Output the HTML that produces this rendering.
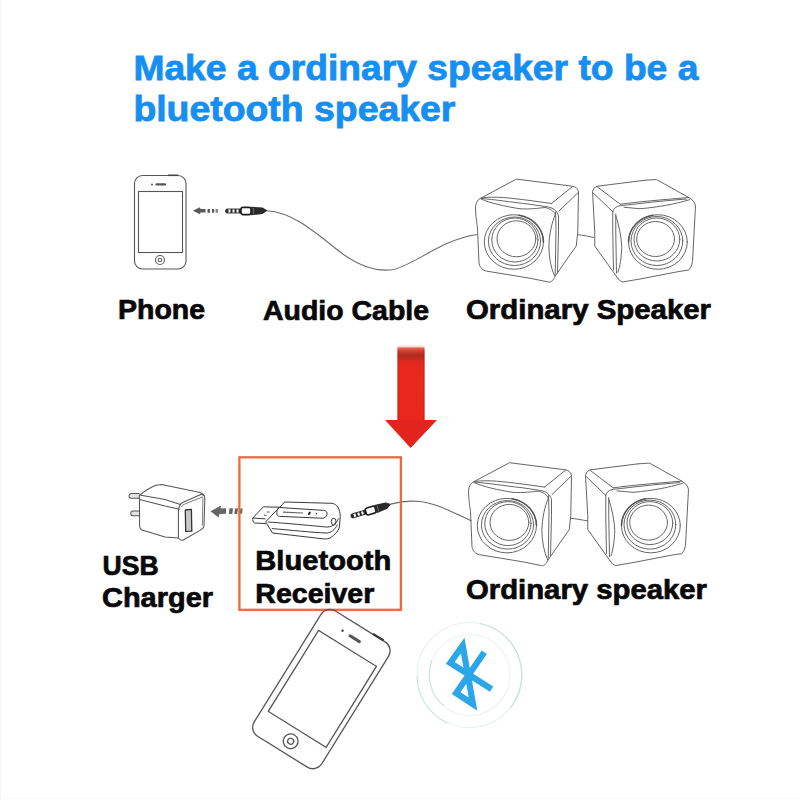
<!DOCTYPE html>
<html><head><meta charset="utf-8">
<style>
html,body{margin:0;padding:0;background:#fff;}
body{width:800px;height:800px;overflow:hidden;}
svg{display:block;}
.t{font-family:"Liberation Sans",sans-serif;font-weight:bold;stroke:currentColor;stroke-width:0.7px;}
</style></head>
<body>
<svg width="800" height="800" viewBox="0 0 800 800">
<defs>
<linearGradient id="shaft" x1="0" y1="0" x2="0" y2="1">
<stop offset="0" stop-color="#fff"/>
<stop offset="0.02" stop-color="#f8d6d0"/>
<stop offset="0.045" stop-color="#e6584a"/>
<stop offset="0.09" stop-color="#c8392c"/>
<stop offset="0.14" stop-color="#ab2a1e"/>
<stop offset="0.2" stop-color="#d62a20"/>
<stop offset="0.28" stop-color="#e8281e"/>
<stop offset="1" stop-color="#ea261c"/>
</linearGradient>



</defs>

<!-- Title -->
<text class="t" x="133.4" y="80" font-size="34.5" fill="#168ef2" style="color:#168ef2;stroke-width:0.8px" textLength="565" lengthAdjust="spacingAndGlyphs">Make a ordinary speaker to be a</text>
<text class="t" x="133.4" y="121.3" font-size="34.5" fill="#168ef2" style="color:#168ef2;stroke-width:0.8px" textLength="322" lengthAdjust="spacingAndGlyphs">bluetooth speaker</text>

<!-- Upper phone -->
<g fill="none" stroke="#555" stroke-width="1.1">
  <rect x="134.5" y="175.5" width="51.5" height="93.5" rx="8" ry="8"/>
  <rect x="138.5" y="191.5" width="44" height="61"/>
  <circle cx="160" cy="260" r="4.5"/>
  <circle cx="160" cy="260" r="1.8"/>
</g>
<line x1="156.5" y1="184.4" x2="165" y2="184.4" stroke="#555" stroke-width="2.2" stroke-linecap="round"/>
<circle cx="152" cy="184.4" r="1" fill="#555"/>
<line x1="168" y1="175.3" x2="178" y2="175.3" stroke="#444" stroke-width="1.6"/>

<!-- dashed arrow upper -->
<g fill="#5a5a5a">
  <path d="M192.75,210.75 L200,207.3 L200.5,209 L205.5,209 L205.5,212.5 L200.5,212.5 L200,214.2 Z"/>
  <rect x="207.5" y="209" width="2.5" height="3.75"/>
  <rect x="212" y="209" width="2.2" height="3.75"/>
  <rect x="215.5" y="209" width="2.5" height="3.75" fill="#888"/>
</g>
<!-- jack upper -->
<g transform="translate(225.5,211)">
  <path d="M1,-2 L15.5,-2 L15.5,2 L1,2 Q-0.8,0 1,-2 Z" fill="#fff" stroke="#2a2a2a" stroke-width="0.9"/>
  <rect x="0" y="-2" width="3" height="4" rx="1.5" fill="#2a2a2a"/>
  <rect x="5" y="-2" width="2" height="4" fill="#2a2a2a"/>
  <rect x="9" y="-2" width="2" height="4" fill="#2a2a2a"/>
  <rect x="13" y="-2" width="2.5" height="4" fill="#2a2a2a"/>
  <rect x="15.5" y="-3.6" width="10" height="7.2" rx="2" fill="#fff" stroke="#1e1e1e" stroke-width="1.6"/>
  <path d="M25.5,-4.2 L37,-3.6 L42,-0.5 L37,3 L25.5,4.2 Z" fill="#2a2a2a"/>
  <path d="M28,-3 L28,3" stroke="#aaa" stroke-width="0.5"/>
</g>
<!-- cable upper -->
<path d="M267,210.75 C290,212 310,228 335,248 C357,266 375,272 392.5,269.75 C415,265 440,240 477.2,234.5" fill="none" stroke="#6a6a6a" stroke-width="1.1"/>
<path d="M577.5,234.75 C583,235 589,236.5 594,237.5" fill="none" stroke="#666" stroke-width="1"/>

<g fill="none" stroke="#666" stroke-width="1" stroke-linejoin="round" stroke-linecap="round">
 <path d="M481.25,197.9 L516.5,179.1 L572.5,186.25 Q577.5,187 578.5,192 L577.75,232 L576.25,246 L555.25,276"/>
 <path d="M551.5,203.5 L572.5,186.6"/>
 <path d="M559,211 L578.5,192.25"/>
 <path d="M481.25,197.9 C495,196 510,198 530,200.5 L551.5,203.5"/>
 <path d="M481,198.5 C495,199.5 510,202 530,204.25 L544.75,206.5 C552,207 557,210 558.5,216 L558.5,232 L557.5,273"/>
 <path d="M555.5,212 L556,228 L555.25,274.5"/>
 <path d="M481,199 C490,203 505,206.5 520,208.75 C530,209.5 540,208 545,207.5 C550,208.5 554,211 555.25,214.75 C552,222 549,235 548.9,246.75 C549,258 551,268 554.5,276"/>
 <path d="M481.25,197.9 C478,199 476,202 475.5,207 C475.5,215 477,224 477.5,228 L479,263.25 C480,268 483,270.5 486.5,271.1 L530,278.25 L548.5,282 C551,282.3 553,281 555.25,276"/>
 <ellipse cx="513.9" cy="242" rx="29.6" ry="27.25"/>
 <ellipse cx="514.5" cy="241.25" rx="26.1" ry="24.25"/>
 <ellipse cx="514.9" cy="240" rx="23.1" ry="22"/>
 <ellipse cx="516.4" cy="238.8" rx="19.4" ry="18"/>
 <path d="M519,215.2 A29.6,27.25 0 0 1 543.5,242" stroke-width="1.5" stroke="#555"/>
</g>
<g fill="none" stroke="#666" stroke-width="1" stroke-linejoin="round" stroke-linecap="round">
 <path d="M645,180.25 L597,186.25 Q593,187.5 592.5,191.5 L594.75,232 L594.75,246 L617.25,277.5"/>
 <path d="M597,186.6 L620.25,204.25"/>
 <path d="M593.25,193 L612.75,211.75"/>
 <path d="M645,180.25 L656.5,179.5 L688.75,197.5 Q694.5,200.5 695.5,205.75 L692.5,261.75 Q691.5,268 688.75,270 L679,271.5 L640,279 L622.5,282 Q619,281 617.25,277.5"/>
 <path d="M620.25,204.25 C640,201.5 660,200 688.75,197.5"/>
 <path d="M612.75,211.75 Q614,206.5 620.25,205.75 C640,203.5 660,201 686.5,199"/>
 <path d="M624,207.25 L640,208.75 C660,207 675,204 689.5,199.75"/>
 <path d="M612.75,211.75 L612.75,232 L613.5,270"/>
 <path d="M615.75,214 L615.75,232 L616.5,273"/>
 <path d="M615.75,215.5 C619,225 621.5,238 621.75,246.75 C621.5,258 620,266 618,272.25"/>
 <ellipse cx="657.9" cy="242" rx="29.4" ry="27.25"/>
 <ellipse cx="656.9" cy="241" rx="25.9" ry="24.5"/>
 <ellipse cx="656.9" cy="239.5" rx="22.9" ry="21.5"/>
 <ellipse cx="655.6" cy="239" rx="18.9" ry="17.5"/>
 <path d="M652.8,215.2 A29.4,27.25 0 0 0 628.5,242" stroke-width="1.5" stroke="#555"/>
</g>

<!-- labels upper -->
<text class="t" x="118" y="318.7" font-size="27.5" fill="#080808" style="color:#080808" textLength="87" lengthAdjust="spacingAndGlyphs">Phone</text>
<text class="t" x="263" y="320.4" font-size="27.5" fill="#080808" style="color:#080808" textLength="166" lengthAdjust="spacingAndGlyphs">Audio Cable</text>
<text class="t" x="466" y="318.5" font-size="27.5" fill="#080808" style="color:#080808" textLength="245" lengthAdjust="spacingAndGlyphs">Ordinary Speaker</text>

<!-- red arrow -->
<rect x="397.5" y="345" width="27" height="77" fill="url(#shaft)"/>
<rect x="397.5" y="350" width="1.2" height="72" fill="#b8251c" opacity="0.6"/>
<rect x="423.3" y="350" width="1.2" height="72" fill="#b8251c" opacity="0.6"/>
<path d="M385,420 L437,420 L410.6,448 Z" fill="#e2241c"/>


<!-- charger -->
<g fill="none" stroke="#555" stroke-width="1.05" stroke-linejoin="round">
  <path d="M139.5,493.4 L131,493.6 C128.3,494 128.3,498 131,498.2 L139.5,498.3" fill="#e4e4e4"/>
  <path d="M139.5,510.9 L132.7,511 C130,511.3 130,515.5 132.7,515.7 L139.5,515.8" fill="#e4e4e4"/>
  <path d="M139.6,495 C145,491 151,487 155.9,485.3 L161.6,484.5 L199.1,492.2 C202,493 203.5,494 204.5,496"/>
  <path d="M139.6,495 L165,499.5 L180.4,504.4"/>
  <path d="M139.6,499.5 L165,506 L179.6,509.3"/>
  <path d="M139.4,495 L139.6,526.3 C140,529 141.5,530 143.7,530.4 L165,536.9 L178.4,538.1"/>
  <path d="M180.4,504.4 C178.8,507 178.3,510 178.4,514 L178.4,536.9 C178.6,538.8 180.5,540.4 182.9,540.2 L200,530.4 C203,528.5 204,527 204,525.5 L204.8,498 C204.8,496 203,494.3 200.8,494.6 L183.7,502 C182,502.8 181,503.5 180.4,504.4 Z"/>
  <path d="M181.3,506.8 C182.5,505 184,504 186.1,503.6 L202.4,497 C202.9,498 203,499.5 202.8,501 L202.4,525.5" stroke="#888"/>
  <path d="M185.3,510 L191.4,509.3 L191.8,531.2 L185.7,531.4 Z" fill="#c8c8c8" stroke="#333" stroke-width="1.3"/>
</g>
<!-- gray arrow lower -->
<g fill="#666">
  <path d="M210.5,511.25 L221,505.5 L220.5,508.5 L226,508.3 L226,513.8 L219.5,514 L218.5,517.5 Z"/>
  <path d="M229.5,508.3 L233,508.2 L232.3,514 L228.8,514 Z"/>
  <path d="M235,508.4 L238,508.3 L237.3,514 L234.3,514 Z"/>
  <path d="M240.3,508.5 L242.7,508.5 L242,513.8 L239.6,513.8 Z"/>
</g>

<!-- usb receiver -->
<g fill="none" stroke="#3a3a3a" stroke-width="1" stroke-linejoin="round">
  <path d="M265.6,518.9 L252.8,518 L263.4,506.8 L282,507.3"/>
  <path d="M252.8,518 C252.5,520 253,522.5 254.5,523 L265.8,523.6"/>
  <path d="M267,512 L269.5,512 M264,515 L266.5,515.5" stroke-width="0.9"/>
  <path d="M284.7,502 L265.6,521.8 L272.5,533 L324.8,539 C329,539 331.5,537.5 333.5,535.4 C337,532 339,530 339.3,527 L340.3,516.4 C340,509 337,504 332,503.3 Z"/>
  <path d="M268,522 C290,523.5 315,526 326,527 C332,527.5 336,524 338.5,518.5"/>
  <path d="M271.9,528.6 C290,530 312,532.5 326,533 C331,533.2 335,529.5 337.5,524.5"/>
  <path d="M279.7,507.5 L323.6,510.4 C326.5,510.6 327.5,512.5 327,514.5 C326.5,517 324.5,518.3 322.4,518.2 L279.7,516.4 C277.5,516.3 276.5,514.5 276.8,512.5 C277,509.5 278,507.5 279.7,507.5 Z"/>
  <ellipse cx="333.7" cy="521.7" rx="2.3" ry="3.5"/>
</g>
<g fill="#666">
  <path d="M283,511.5 L303,512.5 L303,513.6 L283,512.8 Z"/>
</g>
<ellipse cx="309.4" cy="513.4" rx="1" ry="2" transform="rotate(35 309.4 513.4)" fill="#222"/>
<circle cx="316.5" cy="513.6" r="0.8" fill="#444"/>
<!-- jack lower -->
<g transform="translate(351,516.4) rotate(-16.6)">
  <path d="M1,-2 L15.5,-2 L15.5,2 L1,2 Q-0.8,0 1,-2 Z" fill="#fff" stroke="#2a2a2a" stroke-width="0.9"/>
  <rect x="0" y="-2" width="3" height="4" rx="1.5" fill="#2a2a2a"/>
  <rect x="5" y="-2" width="2" height="4" fill="#2a2a2a"/>
  <rect x="9" y="-2" width="2" height="4" fill="#2a2a2a"/>
  <rect x="13" y="-2" width="2.5" height="4" fill="#2a2a2a"/>
  <rect x="15.5" y="-3.6" width="10" height="7.2" rx="2" fill="#fff" stroke="#1e1e1e" stroke-width="1.6"/>
  <path d="M25.5,-4.2 L37,-3.6 L42,-0.5 L37,3 L25.5,4.2 Z" fill="#2a2a2a"/>
  <path d="M28,-3 L28,3" stroke="#aaa" stroke-width="0.5"/>
</g>
<!-- cable lower -->
<path d="M390.6,504.1 C400,501.5 410,500.5 420,501.5 C435,503 450,511 471.6,520.9" fill="none" stroke="#6a6a6a" stroke-width="1.1"/>
<path d="M570.5,518.35 C576,518.6 582,520 588,521" fill="none" stroke="#666" stroke-width="1"/>

<!-- orange box -->
<rect x="239.4" y="457.3" width="161.5" height="152.5" fill="none" stroke="#ee6a38" stroke-width="2.3"/>
<g transform="translate(-7,283.6)" fill="none" stroke="#666" stroke-width="1" stroke-linejoin="round" stroke-linecap="round">
 <path d="M481.25,197.9 L516.5,179.1 L572.5,186.25 Q577.5,187 578.5,192 L577.75,232 L576.25,246 L555.25,276"/>
 <path d="M551.5,203.5 L572.5,186.6"/>
 <path d="M559,211 L578.5,192.25"/>
 <path d="M481.25,197.9 C495,196 510,198 530,200.5 L551.5,203.5"/>
 <path d="M481,198.5 C495,199.5 510,202 530,204.25 L544.75,206.5 C552,207 557,210 558.5,216 L558.5,232 L557.5,273"/>
 <path d="M555.5,212 L556,228 L555.25,274.5"/>
 <path d="M481,199 C490,203 505,206.5 520,208.75 C530,209.5 540,208 545,207.5 C550,208.5 554,211 555.25,214.75 C552,222 549,235 548.9,246.75 C549,258 551,268 554.5,276"/>
 <path d="M481.25,197.9 C478,199 476,202 475.5,207 C475.5,215 477,224 477.5,228 L479,263.25 C480,268 483,270.5 486.5,271.1 L530,278.25 L548.5,282 C551,282.3 553,281 555.25,276"/>
 <ellipse cx="513.9" cy="242" rx="29.6" ry="27.25"/>
 <ellipse cx="514.5" cy="241.25" rx="26.1" ry="24.25"/>
 <ellipse cx="514.9" cy="240" rx="23.1" ry="22"/>
 <ellipse cx="516.4" cy="238.8" rx="19.4" ry="18"/>
 <path d="M519,215.2 A29.6,27.25 0 0 1 543.5,242" stroke-width="1.5" stroke="#555"/>
</g>
<g transform="translate(-7,283.6)" fill="none" stroke="#666" stroke-width="1" stroke-linejoin="round" stroke-linecap="round">
 <path d="M645,180.25 L597,186.25 Q593,187.5 592.5,191.5 L594.75,232 L594.75,246 L617.25,277.5"/>
 <path d="M597,186.6 L620.25,204.25"/>
 <path d="M593.25,193 L612.75,211.75"/>
 <path d="M645,180.25 L656.5,179.5 L688.75,197.5 Q694.5,200.5 695.5,205.75 L692.5,261.75 Q691.5,268 688.75,270 L679,271.5 L640,279 L622.5,282 Q619,281 617.25,277.5"/>
 <path d="M620.25,204.25 C640,201.5 660,200 688.75,197.5"/>
 <path d="M612.75,211.75 Q614,206.5 620.25,205.75 C640,203.5 660,201 686.5,199"/>
 <path d="M624,207.25 L640,208.75 C660,207 675,204 689.5,199.75"/>
 <path d="M612.75,211.75 L612.75,232 L613.5,270"/>
 <path d="M615.75,214 L615.75,232 L616.5,273"/>
 <path d="M615.75,215.5 C619,225 621.5,238 621.75,246.75 C621.5,258 620,266 618,272.25"/>
 <ellipse cx="657.9" cy="242" rx="29.4" ry="27.25"/>
 <ellipse cx="656.9" cy="241" rx="25.9" ry="24.5"/>
 <ellipse cx="656.9" cy="239.5" rx="22.9" ry="21.5"/>
 <ellipse cx="655.6" cy="239" rx="18.9" ry="17.5"/>
 <path d="M652.8,215.2 A29.4,27.25 0 0 0 628.5,242" stroke-width="1.5" stroke="#555"/>
</g>

<!-- labels lower -->
<text class="t" x="102.6" y="574.8" font-size="27.5" fill="#080808" style="color:#080808" textLength="56" lengthAdjust="spacingAndGlyphs">USB</text>
<text class="t" x="102" y="606.5" font-size="27.5" fill="#080808" style="color:#080808" textLength="111" lengthAdjust="spacingAndGlyphs">Charger</text>
<text class="t" x="255.3" y="570.2" font-size="27.5" fill="#080808" style="color:#080808" textLength="136" lengthAdjust="spacingAndGlyphs">Bluetooth</text>
<text class="t" x="255.3" y="602.8" font-size="27.5" fill="#080808" style="color:#080808" textLength="119" lengthAdjust="spacingAndGlyphs">Receiver</text>
<text class="t" x="466" y="599" font-size="27.5" fill="#080808" style="color:#080808" textLength="241" lengthAdjust="spacingAndGlyphs">Ordinary speaker</text>

<!-- tilted phone -->
<g transform="translate(322.34,688.9) rotate(31.85)" fill="none" stroke="#555" stroke-width="1.3">
  <rect x="-40.5" y="-73.1" width="79.5" height="147.5" rx="10.5" ry="10.5"/>
  <rect x="-34.05" y="-47.65" width="68.1" height="95.3"/>
  <circle cx="0.7" cy="61.2" r="7.4"/>
  <circle cx="0.7" cy="61.2" r="3"/>
  <line x1="-4.5" y1="-59.7" x2="6.5" y2="-59.7" stroke-width="3" stroke-linecap="round"/>
  <circle cx="-13.6" cy="-60.2" r="1.3" fill="#555" stroke="none"/>
  <line x1="14" y1="-73.5" x2="26.4" y2="-73.5" stroke="#333" stroke-width="2.2"/>
</g>

<!-- bluetooth -->
<g fill="none" stroke-width="1.1">
  <circle cx="469.5" cy="675" r="52.5" stroke="#e8f0f0"/>
  <circle cx="469.5" cy="675" r="40.5" stroke="#ebf2f2"/>
  <path d="M480,623.5 A52.5,52.5 0 0 1 510,708" stroke="#c9dcdc"/>
  <path d="M447,723 A52.5,52.5 0 0 1 417,676" stroke="#d3e2e2"/>
  <path d="M444,706 A40.5,40.5 0 0 1 432,660" stroke="#d3e2e2"/>
</g>
<path d="M484.3,652.3 L456.16,693.07 L472.99,704.11 L462.72,645.51 L450.28,662.87 L491.6,689.1" fill="none" stroke="#2ba6e8" stroke-width="6.2" stroke-linejoin="miter" stroke-miterlimit="10"/>

<line x1="0.5" y1="0" x2="0.5" y2="800" stroke="#f6f6f6" stroke-width="1"/>
<line x1="0" y1="798.5" x2="800" y2="798.5" stroke="#f7f7f7" stroke-width="1"/>
</svg>
</body></html>
